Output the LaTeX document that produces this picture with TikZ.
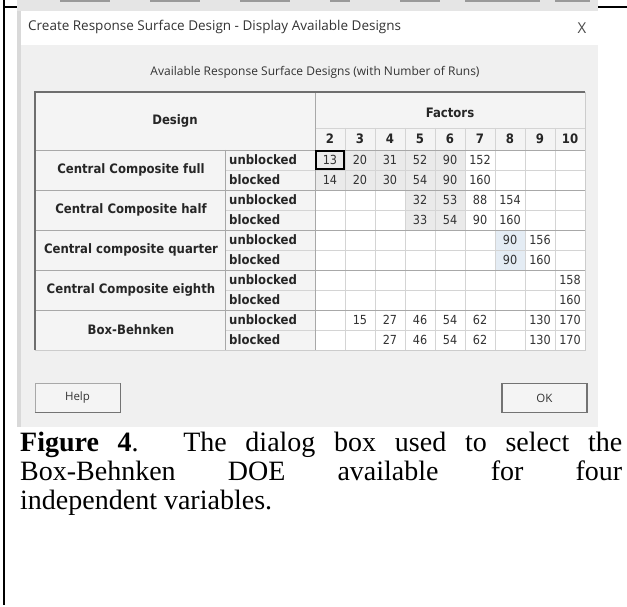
\documentclass[tikz,border=0pt]{standalone}
\usepackage{fontspec}
\setmainfont{Liberation Serif}
\newfontfamily\uifont{Open Sans}
\newfontfamily\gridfont{DejaVu Sans Condensed}

\definecolor{dlgbg}{HTML}{F0F0F0}
\definecolor{headbg}{HTML}{F4F4F4}
\definecolor{cellhi}{HTML}{EAEAEA}
\definecolor{cellsel}{HTML}{E4ECF4}
\definecolor{gridlt}{HTML}{D4D4D4}
\definecolor{griddk}{HTML}{A8A8A8}
\definecolor{bevel}{HTML}{6E6E6E}

\tikzset{
  lbl/.style={font=\gridfont\bfseries\fontsize{13}{15}\selectfont, text=black!85},
  val/.style={font=\gridfont\fontsize{12.5}{14}\selectfont, text=black!80},
  uitext/.style={font=\uifont\fontsize{12}{14}\selectfont, text=black!80},
  button/.style={draw=griddk, fill=headbg, minimum width=85pt, minimum height=29pt, font=\uifont\fontsize{11.5}{13}\selectfont, text=black!80},
  gridline/.style={draw=gridlt, line width=0.8pt},
  groupline/.style={draw=griddk, line width=0.9pt}
}

\begin{document}
\begin{tikzpicture}[x=1pt, y=-1pt, every node/.style={inner sep=0pt}]
    \useasboundingbox (0,0) rectangle (627,607);

    % page frame
    \draw[line width=2pt] (4,0) -- (4,605);
    \draw[line width=2pt] (4,7) -- (17,7);
    \draw[line width=2pt] (598,7) -- (627,7);

    % dialog window
    \fill[dlgbg] (17,0) rectangle (598,427);
    \fill[black!10] (17,0) rectangle (598,11);
    \foreach \a/\b in {60/110,150/200,240/290,330/350,400/440,465/540,555/590}
        \draw[black!40, line width=2pt] (\a,1) -- (\b,1);
    \fill[white] (21,11) rectangle (598,45);
    \fill[black!15] (17,11) rectangle (21,427);

    % title bar
    \node[font=\uifont\fontsize{13.5}{16}\selectfont, text=black!80, anchor=west] (title) at (28,27) {Create Response Surface Design - Display Available Designs};
    \node[font=\uifont\fontsize{15}{17}\selectfont, text=black!70] (close) at (582,28) {X};
    \node[uitext] (caption) at (315,72) {Available Response Surface Designs (with Number of Runs)};

    % table background
    \fill[headbg] (35,92) rectangle (585,150);
    \fill[headbg] (35,150) rectangle (315,350);
    \fill[white] (315,150) rectangle (585,350);
    \foreach \c in {2,...,6}
        \fill[cellhi] ({315+30*(\c-2)},150) rectangle ++(30,40);
    \foreach \c in {5,6}
        \fill[cellhi] ({315+30*(\c-2)},190) rectangle ++(30,40);
    \fill[cellsel] (495,230) rectangle ++(30,40);

    % grid
    \foreach \k in {1,3,5,7,9}
        \draw[gridline] (225,{150+20*\k}) -- (585,{150+20*\k});
    \foreach \c in {3,...,10}
        \draw[gridline] ({315+30*(\c-2)},128) -- ({315+30*(\c-2)},350);
    \draw[gridline] (315,128) -- (585,128);
    \foreach \k in {0,2,4,6,8}
        \draw[groupline] (35,{150+20*\k}) -- (585,{150+20*\k});
    \draw[groupline] (315,92) -- (315,350);
    \draw[groupline] (225,150) -- (225,350);

    % table border
    \draw[draw=black!20, line width=1pt] (35,350) -- (585,350) -- (585,92);
    \draw[draw=bevel, line width=2pt] (35,350) -- (35,92) -- (585,92);

    % headers
    \node[lbl] (design) at (175,121) {Design};
    \node[lbl] (factors) at (450,113) {Factors};
    \foreach \c in {2,...,10}
        \node[lbl] (f\c) at ({330+30*(\c-2)},139) {\c};

    % design names
    \node[lbl] (ccfull) at (131,170) {Central Composite full};
    \node[lbl] (cchalf) at (131,210) {Central Composite half};
    \node[lbl] (ccquarter) at (131,250) {Central composite quarter};
    \node[lbl] (cceighth) at (131,290) {Central Composite eighth};
    \node[lbl] (boxbeh) at (131,330) {Box-Behnken};

    % blocking labels
    \foreach \k in {0,2,4,6,8} {
        \node[lbl, anchor=west] (unb\k) at (229,{160+20*\k}) {unblocked};
        \node[lbl, anchor=west] (blk\k) at (229,{180+20*\k}) {blocked};
    }

    % number of runs
    \foreach \c/\v in {2/13,3/20,4/31,5/52,6/90,7/152}
        \node[val] (r0-\c) at ({330+30*(\c-2)},160) {\v};
    \foreach \c/\v in {2/14,3/20,4/30,5/54,6/90,7/160}
        \node[val] (r1-\c) at ({330+30*(\c-2)},180) {\v};
    \foreach \c/\v in {5/32,6/53,7/88,8/154}
        \node[val] (r2-\c) at ({330+30*(\c-2)},200) {\v};
    \foreach \c/\v in {5/33,6/54,7/90,8/160}
        \node[val] (r3-\c) at ({330+30*(\c-2)},220) {\v};
    \foreach \c/\v in {8/90,9/156}
        \node[val] (r4-\c) at ({330+30*(\c-2)},240) {\v};
    \foreach \c/\v in {8/90,9/160}
        \node[val] (r5-\c) at ({330+30*(\c-2)},260) {\v};
    \node[val] (r6-10) at (570,280) {158};
    \node[val] (r7-10) at (570,300) {160};
    \foreach \c/\v in {3/15,4/27,5/46,6/54,7/62,9/130,10/170}
        \node[val] (r8-\c) at ({330+30*(\c-2)},320) {\v};
    \foreach \c/\v in {4/27,5/46,6/54,7/62,9/130,10/170}
        \node[val] (r9-\c) at ({330+30*(\c-2)},340) {\v};

    % focus box on the first cell
    \draw[black, line width=1.2pt] (316,151) rectangle (344,169);

    % buttons
    \node[button] (help) at (77.5,397.5) {Help};
    \draw[black!55, line width=1.2pt] (help.south west) -- (help.south east) -- (help.north east);
    \node[button, draw=black!55, line width=1.2pt] (ok) at (544.5,398) {OK};

    % figure caption
    \node[anchor=north west, text width=602pt, align=justify, font=\fontsize{28}{29}\selectfont] (figcap) at (20,432)
        {\textbf{Figure 4}. The dialog box used to select the\linebreak
         Box-Behnken DOE available for four\linebreak
         independent variables.};
\end{tikzpicture}
\end{document}
